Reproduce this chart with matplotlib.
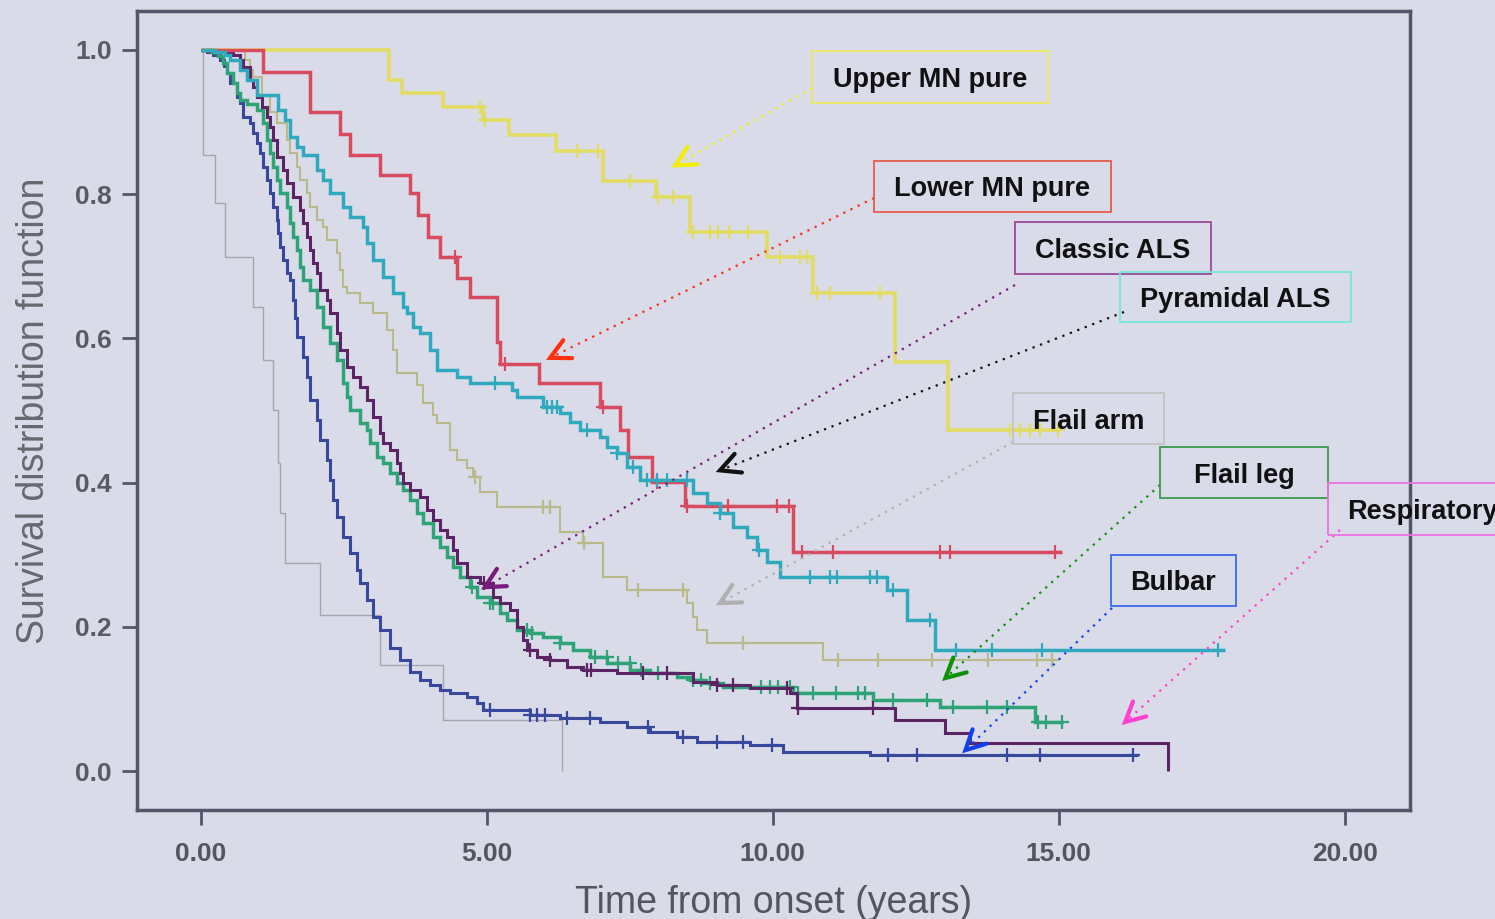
import numpy as np
import matplotlib
matplotlib.use('Agg')
import matplotlib.pyplot as plt
from matplotlib.lines import Line2D
from matplotlib.patches import Rectangle

plt.rcParams['font.family'] = ['Liberation Sans', 'DejaVu Sans']

# ---------------- data (years, survival) ----------------
UMN_t = [3.30, 3.53, 4.23, 4.93, 5.40, 6.22, 7.03, 7.97, 8.55, 9.90, 10.70, 12.13, 13.06]
UMN_s = [0.958, 0.940, 0.921, 0.903, 0.882, 0.860, 0.818, 0.796, 0.748, 0.713, 0.663, 0.567, 0.473]
UMN_end = 15.02
UMN_c = [4.88, 4.97, 6.58, 6.95, 7.51, 7.99, 8.26, 8.60, 8.91, 9.05, 9.23, 9.57,
         10.13, 10.48, 10.60, 10.78, 11.00, 11.88, 14.15, 14.33, 14.50, 14.68, 14.99]

LMN_t = [1.10, 1.91, 2.44, 2.61, 3.14, 3.66, 3.81, 3.98, 4.19, 4.48, 4.71, 5.18, 5.24,
         5.91, 6.98, 7.33, 7.48, 7.89, 8.47, 10.36]
LMN_s = [0.970, 0.914, 0.884, 0.854, 0.827, 0.801, 0.771, 0.741, 0.713, 0.684, 0.658,
         0.595, 0.565, 0.538, 0.505, 0.473, 0.436, 0.401, 0.367, 0.304]
LMN_end = 15.06
LMN_c = [4.45, 5.32, 7.04, 7.98, 8.50, 9.22, 10.07, 10.28, 10.51, 11.06, 12.93, 13.10, 14.94]

PYR_t = [0.25, 0.43, 0.52, 0.69, 0.81, 0.99, 1.35, 1.48, 1.56, 1.69, 1.79, 2.04, 2.14,
         2.26, 2.49, 2.61, 2.84, 2.91, 3.02, 3.19, 3.37, 3.54, 3.61, 3.72, 3.84, 4.01,
         4.13, 4.48, 4.71, 5.45, 5.53, 5.99, 6.29, 6.46, 6.64, 6.99, 7.11, 7.28, 7.46,
         7.68, 8.61, 8.85, 9.08, 9.31, 9.55, 9.73, 9.90, 10.13, 12.00, 12.35, 12.84]
PYR_s = [0.997, 0.993, 0.986, 0.972, 0.958, 0.938, 0.917, 0.903, 0.879, 0.865, 0.854,
         0.833, 0.820, 0.802, 0.782, 0.768, 0.755, 0.732, 0.709, 0.685, 0.663, 0.644,
         0.635, 0.616, 0.607, 0.584, 0.556, 0.546, 0.538, 0.528, 0.519, 0.505, 0.497,
         0.484, 0.473, 0.463, 0.449, 0.441, 0.422, 0.404, 0.386, 0.372, 0.358, 0.338,
         0.325, 0.307, 0.290, 0.269, 0.251, 0.209, 0.168]
PYR_end = 17.91
PYR_c = [5.15, 6.05, 6.15, 6.23, 6.75, 7.28, 7.56, 7.80, 7.98, 8.15, 8.50, 9.08, 9.76,
         10.65, 11.00, 11.12, 11.70, 11.83, 12.10, 12.75, 13.20, 13.84, 14.71, 17.79]

FA_t = [0.78, 0.87, 0.92, 1.08, 1.22, 1.34, 1.51, 1.56, 1.69, 1.74, 1.86, 1.91, 2.04,
        2.14, 2.21, 2.38, 2.44, 2.49, 2.56, 2.79, 3.02, 3.26, 3.37, 3.44, 3.78, 3.89,
        4.06, 4.13, 4.36, 4.48, 4.66, 4.76, 4.89, 5.18, 6.28, 6.68, 7.03, 7.45, 8.50,
        8.61, 8.68, 8.85, 10.88]
FA_s = [0.986, 0.972, 0.963, 0.938, 0.914, 0.899, 0.875, 0.857, 0.838, 0.820, 0.801,
        0.782, 0.764, 0.755, 0.736, 0.718, 0.695, 0.671, 0.663, 0.649, 0.635, 0.612,
        0.584, 0.552, 0.535, 0.510, 0.494, 0.483, 0.445, 0.431, 0.420, 0.408, 0.387,
        0.366, 0.331, 0.316, 0.269, 0.251, 0.233, 0.213, 0.196, 0.178, 0.154]
FA_end = 14.97
FA_c = [4.80, 5.98, 6.11, 6.70, 7.65, 8.43, 9.48, 11.14, 11.84, 12.79, 13.77, 14.62, 14.88]

CL_t = [0.37, 0.57, 0.69, 0.74, 0.87, 0.92, 0.99, 1.07, 1.16, 1.22, 1.27, 1.34, 1.44,
        1.51, 1.62, 1.74, 1.79, 1.86, 1.91, 1.97, 2.04, 2.09, 2.21, 2.26, 2.39, 2.44,
        2.56, 2.66, 2.79, 2.91, 3.02, 3.14, 3.19, 3.31, 3.44, 3.49, 3.54, 3.66, 3.84,
        3.96, 4.06, 4.19, 4.31, 4.41, 4.48, 4.66, 4.89, 5.11, 5.24, 5.41, 5.53, 5.64,
        5.71, 5.88, 6.11, 6.41, 6.69, 7.28, 8.61, 9.03, 9.61, 10.30, 10.43, 12.14,
        13.02, 13.45, 16.91]
CL_s = [0.997, 0.993, 0.986, 0.976, 0.958, 0.949, 0.935, 0.921, 0.907, 0.893, 0.875,
        0.852, 0.834, 0.816, 0.796, 0.778, 0.760, 0.741, 0.723, 0.705, 0.691, 0.667,
        0.653, 0.635, 0.607, 0.584, 0.560, 0.546, 0.533, 0.515, 0.491, 0.469, 0.455,
        0.445, 0.427, 0.413, 0.399, 0.390, 0.380, 0.362, 0.348, 0.334, 0.325, 0.307,
        0.288, 0.269, 0.261, 0.241, 0.233, 0.223, 0.200, 0.182, 0.168, 0.158, 0.154,
        0.144, 0.140, 0.136, 0.123, 0.119, 0.115, 0.108, 0.087, 0.071, 0.053, 0.039, 0.0]
CL_end = 16.91
CL_c = [4.95, 5.76, 6.11, 6.76, 6.82, 7.74, 8.15, 9.03, 9.31, 10.25, 10.45, 11.76]

FL_t = [0.20, 0.31, 0.39, 0.46, 0.57, 0.64, 0.69, 0.81, 0.99, 1.09, 1.16, 1.22, 1.27,
        1.34, 1.39, 1.51, 1.56, 1.62, 1.69, 1.74, 1.79, 1.91, 2.04, 2.14, 2.26, 2.39,
        2.49, 2.56, 2.61, 2.79, 2.91, 2.96, 3.09, 3.19, 3.31, 3.44, 3.54, 3.66, 3.78,
        3.89, 4.06, 4.19, 4.31, 4.41, 4.54, 4.71, 4.83, 5.06, 5.24, 5.36, 5.53, 5.76,
        5.99, 6.28, 6.51, 6.81, 7.11, 7.51, 7.86, 8.33, 8.56, 8.78, 9.13, 10.36, 11.76,
        12.93, 14.59]
FL_s = [0.997, 0.992, 0.982, 0.968, 0.954, 0.940, 0.931, 0.925, 0.917, 0.899, 0.875,
        0.857, 0.838, 0.820, 0.801, 0.782, 0.760, 0.741, 0.723, 0.699, 0.681, 0.667,
        0.644, 0.616, 0.594, 0.570, 0.538, 0.519, 0.501, 0.483, 0.473, 0.455, 0.436,
        0.427, 0.413, 0.399, 0.390, 0.376, 0.358, 0.344, 0.325, 0.311, 0.297, 0.283,
        0.269, 0.255, 0.241, 0.233, 0.219, 0.209, 0.196, 0.191, 0.186, 0.178, 0.168,
        0.158, 0.150, 0.140, 0.136, 0.130, 0.126, 0.122, 0.117, 0.108, 0.098, 0.089, 0.068]
FL_end = 15.08
FL_c = [4.75, 5.06, 5.12, 5.70, 5.80, 6.28, 6.90, 7.10, 7.30, 7.50, 7.70, 8.00, 8.60,
        8.75, 8.90, 9.80, 9.95, 10.10, 10.30, 10.45, 10.70, 11.10, 11.50, 11.62, 12.10,
        12.70, 13.16, 13.75, 14.10, 14.63, 14.77, 15.05]

BU_t = [0.11, 0.22, 0.34, 0.41, 0.46, 0.52, 0.64, 0.69, 0.74, 0.87, 0.92, 0.99, 1.04,
        1.09, 1.16, 1.22, 1.27, 1.34, 1.36, 1.39, 1.44, 1.51, 1.56, 1.62, 1.65, 1.69,
        1.79, 1.86, 1.91, 2.04, 2.09, 2.21, 2.26, 2.32, 2.39, 2.49, 2.61, 2.74, 2.79,
        2.91, 3.02, 3.14, 3.31, 3.49, 3.66, 3.84, 4.01, 4.19, 4.36, 4.66, 4.83, 4.94,
        5.76, 6.28, 6.98, 7.45, 7.86, 8.33, 8.68, 9.61, 10.18, 11.70]
BU_s = [0.997, 0.993, 0.986, 0.978, 0.968, 0.954, 0.935, 0.927, 0.907, 0.899, 0.885,
        0.871, 0.857, 0.838, 0.820, 0.801, 0.782, 0.764, 0.746, 0.727, 0.709, 0.691,
        0.681, 0.653, 0.628, 0.602, 0.574, 0.546, 0.515, 0.487, 0.459, 0.431, 0.404,
        0.376, 0.352, 0.325, 0.302, 0.279, 0.261, 0.237, 0.214, 0.196, 0.171, 0.154,
        0.137, 0.126, 0.119, 0.112, 0.108, 0.103, 0.094, 0.085, 0.078, 0.073, 0.068,
        0.061, 0.054, 0.047, 0.040, 0.036, 0.026, 0.022]
BU_end = 16.39
BU_c = [5.06, 5.76, 5.88, 6.02, 6.41, 6.81, 7.83, 8.44, 9.03, 9.48, 9.99, 12.02, 12.53,
        14.10, 14.67, 16.29]

RE_t = [0.04, 0.25, 0.43, 0.92, 1.09, 1.27, 1.36, 1.39, 1.48, 2.09, 3.14, 4.24, 6.32]
RE_s = [0.854, 0.788, 0.713, 0.644, 0.570, 0.501, 0.427, 0.358, 0.288, 0.216, 0.147, 0.071, 0.0]
RE_end = 6.32
RE_c = []

x_ticks = [0, 5, 10, 15, 20]
x_ticklabels = ['0.00', '5.00', '10.00', '15.00', '20.00']
y_ticks = [0.0, 0.2, 0.4, 0.6, 0.8, 1.0]
y_ticklabels = ['0.0', '0.2', '0.4', '0.6', '0.8', '1.0']

# annotation labels and the survival point each arrow points at
ann_labels = ['Upper MN pure', 'Lower MN pure', 'Classic ALS', 'Pyramidal ALS',
              'Flail arm', 'Flail leg', 'Respiratory', 'Bulbar']
ann_tip_x = [8.30, 6.11, 4.97, 9.08, 9.08, 13.02, 16.16, 13.37]
ann_tip_y = [0.840, 0.573, 0.255, 0.417, 0.233, 0.129, 0.068, 0.029]

# ---------------- layout / style ----------------
W, H = 1495, 919
BG = '#d9dbe9'
FRAME = '#52566a'

fig = plt.figure(figsize=(W / 100, H / 100), dpi=100, facecolor=BG)
ax = fig.add_axes([137 / W, 1 - 810 / H, (1410 - 137) / W, (810 - 11) / H])
ax.set_facecolor(BG)
ax.set_xlim(-1.11, 21.14)
ax.set_ylim(-0.054, 1.054)


def km(t, s, end, cens, color, lw, z):
    t = np.asarray(t, float)
    s = np.asarray(s, float)
    tt = np.concatenate([[0.0], t, [end]])
    ss = np.concatenate([[1.0], s, [s[-1]]])
    ax.step(tt, ss, where='post', color=color, lw=lw, zorder=z,
            solid_joinstyle='miter', solid_capstyle='butt')
    if len(cens):
        c = np.asarray(cens, float)
        idx = np.searchsorted(t, c, side='right') - 1
        cy = np.where(idx >= 0, s[np.clip(idx, 0, None)], 1.0)
        ax.plot(c, cy, ls='none', marker='+', ms=10, mew=1.6, color=color, zorder=z)


km(RE_t, RE_s, RE_end, RE_c, '#a6a6b0', 1.0, 2)
km(FA_t, FA_s, FA_end, FA_c, '#b9b98a', 1.5, 3)
km(UMN_t, UMN_s, UMN_end, UMN_c, '#e2dc62', 2.6, 4)
km(BU_t, BU_s, BU_end, BU_c, '#38489c', 2.2, 5)
km(FL_t, FL_s, FL_end, FL_c, '#2ea476', 2.5, 6)
km(CL_t, CL_s, CL_end, CL_c, '#5c2464', 2.2, 7)
km(LMN_t, LMN_s, LMN_end, LMN_c, '#d84a5e', 2.5, 8)
km(PYR_t, PYR_s, PYR_end, PYR_c, '#2fa9bd', 2.5, 9)

for sp in ax.spines.values():
    sp.set_color(FRAME)
    sp.set_linewidth(2.5)

ax.set_xticks(x_ticks)
ax.set_xticklabels(x_ticklabels, fontsize=19, fontweight='bold', color='#55555e')
ax.set_yticks(y_ticks)
ax.set_yticklabels(y_ticklabels, fontsize=19, fontweight='bold', color='#5a5a63')
ax.tick_params(axis='both', direction='out', length=11, width=2, color=FRAME)
ax.tick_params(axis='x', pad=12)
ax.tick_params(axis='y', pad=7)

ax.set_ylabel('Survival distribution function', fontsize=27, color='#68686f')
ax.yaxis.set_label_coords(-0.0665, 0.5)
ax.set_xlabel('Time from onset (years)', fontsize=27, color='#55555d')
ax.xaxis.set_label_coords(0.5, -0.094)

# ---------------- annotation boxes and dotted arrows ----------------
# box: (left, top, right, bottom) in image pixels; line start pixel; colours
boxes = [
    (812, 51, 1048, 103, (812, 88), '#ece85a', '#f2ee00'),
    (874, 161, 1111, 212, (874, 198), '#e85a50', '#ff3010'),
    (1015, 222, 1211, 274, (1015, 285), '#9a4a9a', '#7a1a7a'),
    (1120, 272, 1351, 322, (1124, 312), '#74e8da', '#111111'),
    (1013, 393, 1164, 444, (1013, 442), '#c2c2c2', '#b0b0b0'),
    (1160, 447, 1328, 498, (1160, 485), '#3a9a4a', '#10900a'),
    (1328, 483, 1520, 535, (1340, 530), '#f070e0', '#ff40d0'),
    (1111, 555, 1236, 606, (1112, 608), '#3a6af0', '#1040f0'),
]

fig.canvas.draw()
for i, (l, t, r, b, start, ec, lc) in enumerate(boxes):
    fig.add_artist(Rectangle((l / W, 1 - b / H), (r - l) / W, (b - t) / H,
                             transform=fig.transFigure, fill=False, ec=ec, lw=1.3,
                             zorder=20, clip_on=False))
    cy_txt = 1 - ((t + b) / 2 + 3) / H
    if ann_labels[i] == 'Respiratory':
        fig.text(1347 / W, cy_txt, ann_labels[i], ha='left', va='center',
                 fontsize=19.5, fontweight='bold', color='#111111', zorder=21)
    else:
        fig.text((l + r) / 2 / W, cy_txt, ann_labels[i], ha='center',
                 va='center', fontsize=19.5, fontweight='bold', color='#111111', zorder=21)
    # tip in display pixels (origin bottom-left)
    tx, ty = ax.transData.transform((ann_tip_x[i], ann_tip_y[i]))
    sx, sy = start[0], H - start[1]
    fig.add_artist(Line2D([sx / W, tx / W], [sy / H, ty / H], transform=fig.transFigure,
                          color=lc, lw=1.6, ls=(0, (1, 2.6)), zorder=19))
    d = np.array([sx - tx, sy - ty])
    d = d / np.hypot(*d)
    L = 22.0
    ang = np.deg2rad(27)
    pts = []
    for a in (ang, -ang):
        rot = np.array([[np.cos(a), -np.sin(a)], [np.sin(a), np.cos(a)]])
        pts.append(np.array([tx, ty]) + L * rot @ d)
    xs = [pts[0][0] / W, tx / W, pts[1][0] / W]
    ys = [pts[0][1] / H, ty / H, pts[1][1] / H]
    fig.add_artist(Line2D(xs, ys, transform=fig.transFigure, color=lc, lw=3.0,
                          solid_joinstyle='miter', solid_capstyle='round', zorder=19))

fig.savefig('out.png', dpi=100, facecolor=BG)
